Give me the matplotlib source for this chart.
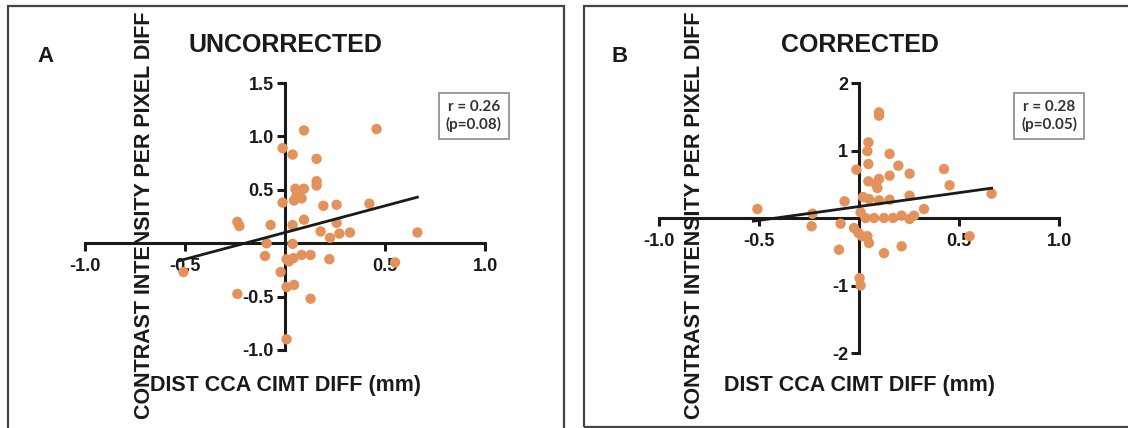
import matplotlib
matplotlib.use("Agg")
import matplotlib.pyplot as plt
from matplotlib.patches import Rectangle
import numpy as np

# panel A (uncorrected) points
xa = [0.095, 0.458, -0.012, 0.038, 0.158, 0.158, 0.158, 0.052, 0.095, 0.058,
      0.083, 0.045, -0.012, 0.192, 0.258, 0.422, -0.238, -0.228, -0.072, 0.038,
      0.095, 0.258, 0.178, 0.225, 0.272, 0.325, 0.662, -0.092, 0.038, -0.100,
      0.008, 0.042, 0.083, 0.128, 0.222, 0.550, -0.508, -0.022, 0.008, 0.045,
      -0.238, 0.128, 0.008, 0.020]
ya = [1.056, 1.069, 0.890, 0.830, 0.790, 0.580, 0.540, 0.510, 0.510, 0.450,
      0.420, 0.400, 0.380, 0.350, 0.360, 0.370, 0.200, 0.160, 0.170, 0.170,
      0.220, 0.190, 0.110, 0.050, 0.090, 0.100, 0.100, 0.000, -0.006, -0.120,
      -0.150, -0.140, -0.110, -0.110, -0.150, -0.180, -0.270, -0.270, -0.410, -0.390,
      -0.475, -0.520, -0.900, -0.170]

# panel B (corrected)
xb = [0.100, 0.100, 0.047, 0.042, 0.153, 0.047, 0.197, -0.013, 0.425, 0.253,
      0.153, 0.100, 0.047, 0.083, 0.092, 0.453, 0.663, 0.253, -0.072, 0.020,
      0.050, 0.100, 0.153, -0.508, -0.233, 0.325, 0.008, 0.033, 0.075, 0.125,
      0.170, 0.213, 0.253, 0.275, -0.237, -0.092, -0.025, -0.003, 0.017, 0.042,
      0.050, 0.553, -0.100, 0.213, 0.125, 0.003, 0.008]
yb = [1.565, 1.516, 1.120, 0.990, 0.950, 0.800, 0.775, 0.716, 0.726, 0.657,
      0.627, 0.578, 0.543, 0.510, 0.444, 0.484, 0.360, 0.330, 0.247, 0.310,
      0.280, 0.260, 0.270, 0.133, 0.064, 0.133, 0.084, 0.000, 0.000, 0.000,
      0.000, 0.035, -0.015, 0.035, -0.123, -0.084, -0.148, -0.222, -0.270, -0.270,
      -0.370, -0.270, -0.470, -0.420, -0.520, -0.890, -1.000]

# fitted lines (slope, intercept)
fit_a = (0.50, 0.10)
fit_b = (0.41, 0.17)

titles = ["UNCORRECTED", "CORRECTED"]
letters = ["A", "B"]
stats = ["r = 0.26\n(p=0.08)", "r = 0.28\n(p=0.05)"]
xticks = [-1.0, -0.5, 0.5, 1.0]
yticks_a = [-1.0, -0.5, 0.5, 1.0, 1.5]
yticks_b = [-2, -1, 1, 2]
ylab = "CONTRAST INTENSITY PER PIXEL DIFF"
xlab = "DIST CCA CIMT DIFF (mm)"

W, H = 1128, 428
dot = '#E2925A'
ink = '#1a1a1a'
plt.rcParams['font.family'] = ['Liberation Sans', 'DejaVu Sans']

fig = plt.figure(figsize=(W / 100, H / 100), dpi=100)

def px(x, y):
    # pixel (from top-left) -> figure fraction
    return x / W, 1 - y / H

# panel borders
for (x0, y0, x1, y1) in [(8, 6, 564, 440), (584, 6, 1140, 427)]:
    fig.patches.append(Rectangle((x0 / W, 1 - y1 / H), (x1 - x0) / W, (y1 - y0) / H,
                                 transform=fig.transFigure, fill=False,
                                 edgecolor='#444444', linewidth=1.6))

panels = [
    dict(rect=(85, 83, 485, 350), ylim=(-1, 1.5), yt=yticks_a, yfmt='%.1f',
         x=xa, y=ya, fit=fit_a, cx=285, ylx=145, letx=45, box=(474, 116)),
    dict(rect=(659, 83, 1059, 353), ylim=(-2, 2), yt=yticks_b, yfmt='%d',
         x=xb, y=yb, fit=fit_b, cx=860, ylx=695, letx=620, box=(1049, 116)),
]

for i, p in enumerate(panels):
    l, t, r, b = p['rect']
    ax = fig.add_axes([l / W, 1 - b / H, (r - l) / W, (b - t) / H])
    ax.set_xlim(-1, 1)
    ax.set_ylim(*p['ylim'])
    for s in ['top', 'right']:
        ax.spines[s].set_visible(False)
    ax.spines['left'].set_position(('data', 0))
    ax.spines['bottom'].set_position(('data', 0))
    for s in ['left', 'bottom']:
        ax.spines[s].set_linewidth(2.2)
        ax.spines[s].set_color(ink)
    ax.set_xticks(xticks)
    ax.set_xticklabels(['%.1f' % v for v in xticks])
    ax.set_yticks(p['yt'])
    ax.set_yticklabels([p['yfmt'] % v for v in p['yt']])
    ax.tick_params(axis='both', direction='out', length=6, width=2.2, color=ink,
                   labelsize=13, labelcolor=ink)
    ax.tick_params(axis='x', pad=5)
    ax.tick_params(axis='y', pad=2)
    for lbl in ax.get_xticklabels() + ax.get_yticklabels():
        lbl.set_fontweight('bold')
    ax.patch.set_visible(False)

    x = np.array(p['x'])
    y = np.array(p['y'])
    ax.scatter(x, y, s=56, color=dot, edgecolors='none', zorder=3, clip_on=False)
    m, c = p['fit']
    xl = np.array([x.min() - 0.02, x.max()])
    ax.plot(xl, m * xl + c, color=ink, linewidth=2.0, zorder=4)

    # texts
    fx, fy = px(p['cx'], 45)
    fig.text(fx, fy, titles[i], ha='center', va='center', fontsize=18,
             fontweight='bold', color=ink)
    fx, fy = px(p['letx'], 57)
    fig.text(fx, fy, letters[i], ha='center', va='center', fontsize=16,
             fontweight='bold', color=ink)
    fx, fy = px(p['ylx'], 215)
    fig.text(fx, fy, ylab, ha='center', va='center', rotation=90, fontsize=15.5,
             fontweight='bold', color=ink)
    fx, fy = px(p['cx'], 386)
    fig.text(fx, fy, xlab, ha='center', va='center', fontsize=15.5,
             fontweight='bold', color=ink)
    bx, by = px(*p['box'])
    fig.text(bx, by, stats[i], ha='center', va='center', fontsize=11,
             family=['Lato', 'DejaVu Sans'], fontweight='bold', color='#333333',
             linespacing=1.3,
             bbox=dict(boxstyle='square,pad=0.45', facecolor='white',
                       edgecolor='#9a9a9a', linewidth=1.4))

fig.savefig('out.png', dpi=100, facecolor='white')
